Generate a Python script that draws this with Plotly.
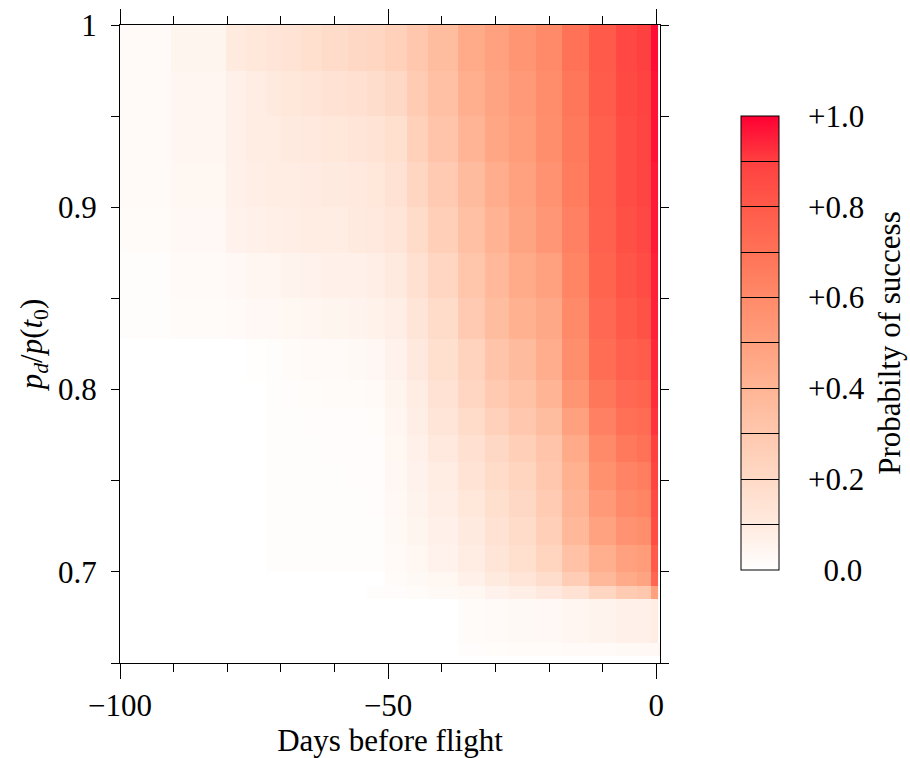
import plotly.graph_objects as go

# Column edges (days before flight) and row edges (p_d / p(t0))
X_EDGES = [-100, -81, -79.5, -73.5, -72, -68, -64.5, -60, -55, -53, -48, -45,
           -40, -34, -30, -25, -20, -15, -10, -5, -2, 0, 0.7]
Y_EDGES = [0.65, 0.654, 0.661, 0.685, 0.692, 0.70, 0.715, 0.73, 0.745, 0.76,
           0.775, 0.79, 0.805, 0.828, 0.85, 0.875, 0.90, 0.925, 0.95, 0.975, 1.0]

# Probability of success, one list per row (bottom to top)
r00 = [0] * 22
r01 = [0] * 13 + [0.012, 0.015, 0.018, 0.02, 0.022, 0.025, 0.03, 0.035, 0.035, 0.045]
r02 = [0] * 13 + [0.02, 0.025, 0.03, 0.035, 0.045, 0.055, 0.065, 0.07, 0.085]
r03 = [0] * 9 + [0.008, 0.012, 0.018, 0.028, 0.04, 0.06, 0.08, 0.11, 0.15, 0.22, 0.28, 0.3, 0.5]
r04 = [0] * 10 + [0.018, 0.028, 0.04, 0.07, 0.1, 0.13, 0.18, 0.27, 0.38, 0.45, 0.48, 0.75]
r05 = [0, 0, 0, 0, 0.008, 0.008, 0.008, 0.009, 0.009, 0.01, 0.022, 0.04, 0.06, 0.09, 0.13, 0.17, 0.23, 0.33, 0.43, 0.5, 0.52, 0.8]
r06 = [0, 0, 0, 0, 0.008, 0.009, 0.009, 0.01, 0.01, 0.011, 0.027, 0.05, 0.07, 0.1, 0.15, 0.19, 0.26, 0.38, 0.49, 0.56, 0.58, 0.85]
r07 = [0, 0, 0, 0, 0.009, 0.009, 0.01, 0.01, 0.011, 0.012, 0.032, 0.055, 0.08, 0.12, 0.17, 0.21, 0.28, 0.4, 0.53, 0.6, 0.62, 0.86]
r08 = [0, 0, 0, 0, 0.009, 0.01, 0.01, 0.011, 0.012, 0.013, 0.036, 0.06, 0.09, 0.14, 0.19, 0.23, 0.3, 0.42, 0.57, 0.63, 0.65, 0.88]
r09 = [0, 0, 0, 0, 0.009, 0.01, 0.011, 0.012, 0.013, 0.014, 0.04, 0.07, 0.11, 0.16, 0.21, 0.26, 0.32, 0.45, 0.6, 0.67, 0.7, 0.9]
r10 = [0, 0, 0, 0, 0.01, 0.011, 0.012, 0.013, 0.014, 0.016, 0.045, 0.08, 0.13, 0.19, 0.25, 0.3, 0.36, 0.5, 0.64, 0.71, 0.73, 0.92]
r11 = [0, 0, 0, 0, 0.01, 0.014, 0.016, 0.018, 0.02, 0.024, 0.05, 0.09, 0.15, 0.22, 0.29, 0.33, 0.4, 0.55, 0.68, 0.74, 0.76, 0.93]
r12 = [0, 0, 0, 0.006, 0.01, 0.02, 0.024, 0.025, 0.03, 0.038, 0.06, 0.11, 0.17, 0.24, 0.32, 0.37, 0.44, 0.58, 0.72, 0.77, 0.79, 0.94]
r13 = [0.01, 0.02, 0.025, 0.033, 0.035, 0.04, 0.045, 0.05, 0.055, 0.062, 0.08, 0.13, 0.19, 0.29, 0.36, 0.42, 0.46, 0.6, 0.74, 0.8, 0.83, 0.95]
r14 = [0.01, 0.025, 0.035, 0.045, 0.045, 0.055, 0.06, 0.065, 0.07, 0.08, 0.1, 0.16, 0.22, 0.31, 0.38, 0.45, 0.5, 0.62, 0.76, 0.82, 0.85, 0.95]
r15 = [0.02, 0.035, 0.06, 0.07, 0.075, 0.08, 0.085, 0.09, 0.1, 0.11, 0.13, 0.19, 0.26, 0.34, 0.41, 0.48, 0.54, 0.64, 0.77, 0.84, 0.87, 0.96]
r16 = [0.025, 0.04, 0.065, 0.08, 0.085, 0.09, 0.095, 0.1, 0.11, 0.12, 0.15, 0.22, 0.29, 0.37, 0.44, 0.5, 0.56, 0.66, 0.78, 0.85, 0.88, 0.96]
r17 = [0.025, 0.045, 0.07, 0.085, 0.09, 0.1, 0.11, 0.12, 0.13, 0.14, 0.17, 0.25, 0.32, 0.4, 0.47, 0.52, 0.58, 0.67, 0.78, 0.85, 0.88, 0.97]
r18 = [0.025, 0.045, 0.07, 0.09, 0.1, 0.12, 0.13, 0.15, 0.16, 0.18, 0.21, 0.28, 0.34, 0.43, 0.48, 0.53, 0.59, 0.68, 0.79, 0.86, 0.89, 0.97]
r19 = [0.025, 0.05, 0.1, 0.12, 0.13, 0.14, 0.17, 0.19, 0.21, 0.22, 0.25, 0.3, 0.36, 0.45, 0.5, 0.55, 0.6, 0.7, 0.8, 0.87, 0.9, 0.98]

Z = [r00, r01, r02, r03, r04, r05, r06, r07, r08, r09,
     r10, r11, r12, r13, r14, r15, r16, r17, r18, r19]

CB_TICKVALS = [0, 0.1, 0.2, 0.3, 0.4, 0.5, 0.6, 0.7, 0.8, 0.9, 1.0]
PAD = "\u2002\u2009"
END = "\u2009"
CB_TICKTEXT = [PAD + "\u20070.0" + END, "", PAD + "+0.2" + END, "", PAD + "+0.4" + END, "",
               PAD + "+0.6" + END, "", PAD + "+0.8" + END, "", PAD + "+1.0" + END]

X_TICKS = [-100, -50, 0]
Y_TICKS = [0.7, 0.8, 0.9, 1.0]
Y_TICKTEXT = ["0.7", "0.8", "0.9", "1"]

COLORSCALE = [
    [0.0, "#ffffff"], [0.1, "#ffeadf"], [0.2, "#ffdac7"], [0.3, "#ffc8ae"],
    [0.4, "#ffb595"], [0.5, "#ffa07e"], [0.6, "#ff8a69"], [0.7, "#ff7257"],
    [0.8, "#ff5a4a"], [0.9, "#ff4040"], [1.0, "#ff0033"],
]

FONT = "Liberation Serif"
FS = 31

fig = go.Figure(
    go.Heatmap(
        x=X_EDGES, y=Y_EDGES, z=Z,
        zmin=0, zmax=1,
        colorscale=COLORSCALE,
        colorbar=dict(
            x=1.15, xanchor="left", xref="paper",
            y=0.5016, yanchor="middle",
            len=0.712, lenmode="fraction",
            thickness=38, thicknessmode="pixels",
            outlinewidth=1, outlinecolor="black",
            tickvals=CB_TICKVALS, ticktext=CB_TICKTEXT,
            ticks="inside", ticklen=38, tickwidth=1, tickcolor="black",
            tickfont=dict(family=FONT, size=FS, color="black"),
            title=dict(text="Probabilty of success", side="right",
                       font=dict(family=FONT, size=FS, color="black")),
            xpad=0, ypad=0,
        ),
        hoverinfo="skip",
    )
)

fig.update_layout(
    width=910, height=758,
    margin=dict(l=120, r=250, t=25, b=95, autoexpand=False),
    paper_bgcolor="white", plot_bgcolor="white",
    font=dict(family=FONT, size=FS, color="black"),
    xaxis=dict(
        range=[-100, 0.7], tickvals=X_TICKS,
        ticks="outside", ticklen=15, tickwidth=1.2, tickcolor="black",
        minor=dict(dtick=10, tick0=0, ticks="outside", ticklen=8, tickwidth=1.2, tickcolor="black"),
        showline=True, linecolor="black", linewidth=1.2, mirror="allticks",
        showgrid=False, zeroline=False,
        title=dict(text="Days before flight", font=dict(family=FONT, size=FS), standoff=4),
        tickfont=dict(family=FONT, size=FS),
    ),
    yaxis=dict(
        range=[0.65, 1.0], tickvals=Y_TICKS, ticktext=Y_TICKTEXT,
        ticks="outside", ticklen=8, tickwidth=1.2, tickcolor="black",
        ticklabelstandoff=8,
        minor=dict(dtick=0.05, tick0=0, ticks="outside", ticklen=8, tickwidth=1.2, tickcolor="black"),
        showline=True, linecolor="black", linewidth=1.2, mirror="allticks",
        showgrid=False, zeroline=False,
        title=dict(text="<i>p</i><sub><i>d</i></sub>/<i>p</i>(<i>t</i><sub>0</sub>)",
                   font=dict(family=FONT, size=FS), standoff=6),
        tickfont=dict(family=FONT, size=FS),
    ),
)

fig.write_html("out.html")
